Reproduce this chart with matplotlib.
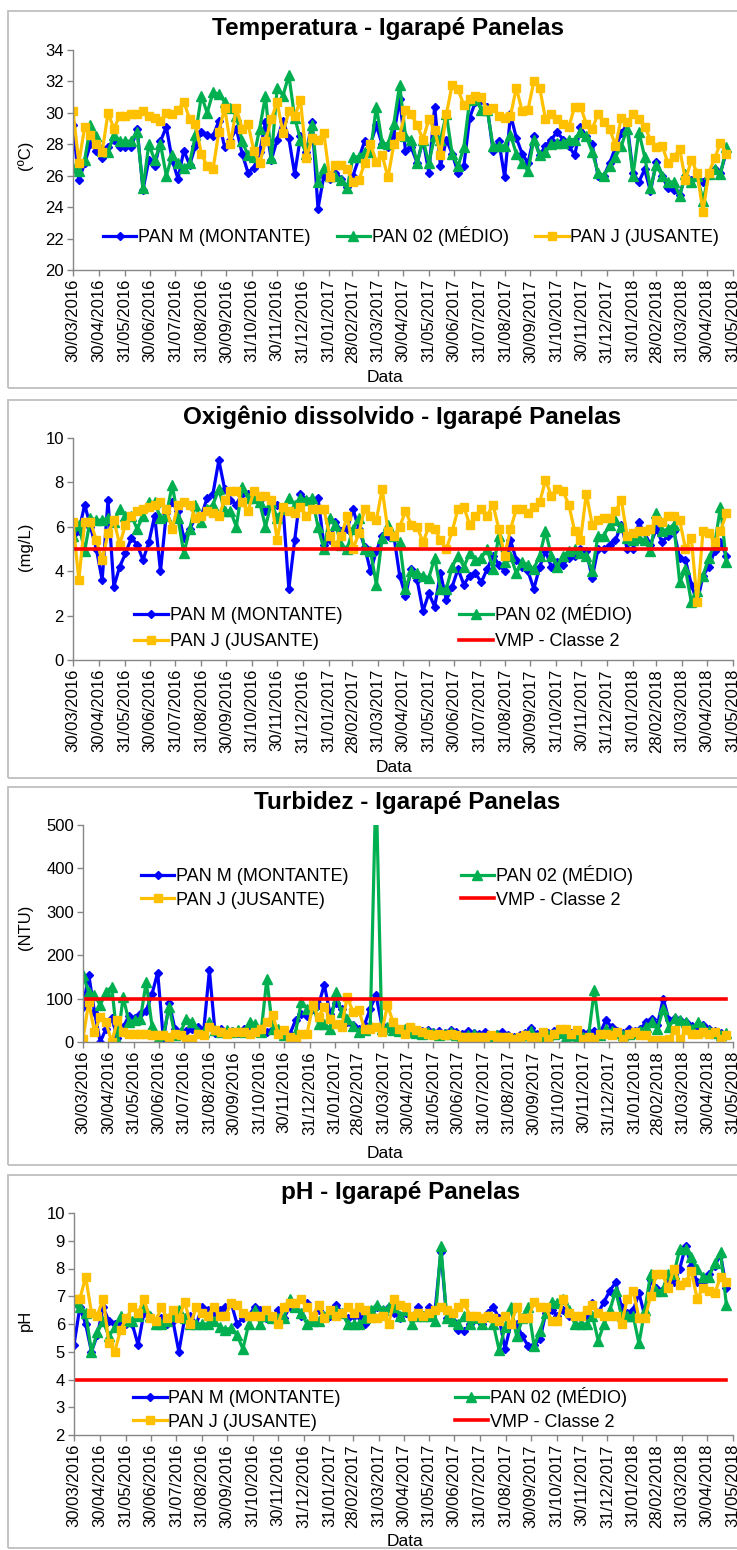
import numpy as np
import pandas as pd
import matplotlib
matplotlib.use('Agg')
import matplotlib.pyplot as plt
from matplotlib.patches import Rectangle

plt.rcParams['font.family'] = ['Liberation Sans', 'DejaVu Sans']

W, H = 737, 1550

# coletas semanais a partir de 30/03/2016
datas = pd.date_range('2016-03-30', periods=113, freq='7D')

rotulos_x = ['30/03/2016', '30/04/2016', '31/05/2016', '30/06/2016', '31/07/2016',
             '31/08/2016', '30/09/2016', '31/10/2016', '30/11/2016', '31/12/2016',
             '31/01/2017', '28/02/2017', '31/03/2017', '30/04/2017', '31/05/2017',
             '30/06/2017', '31/07/2017', '31/08/2017', '30/09/2017', '31/10/2017',
             '30/11/2017', '31/12/2017', '31/01/2018', '28/02/2018', '31/03/2018',
             '30/04/2018', '31/05/2018']

nomes = ['PAN M (MONTANTE)', 'PAN 02 (MÉDIO)', 'PAN J (JUSANTE)']
nome_vmp = 'VMP - Classe 2'

# Temperatura (ºC)
temp_m = [29.2, 25.7, 26.8, 28.0, 27.6, 27.1, 27.8, 28.3, 27.8, 27.8, 27.8,
          29.0, 25.1, 27.0, 26.6, 28.2, 29.1, 27.0, 25.8, 27.6, 26.7,
          27.9, 28.8, 28.6, 28.5, 29.5, 27.8, 28.3, 29.0, 27.4, 26.2,
          26.5, 27.5, 29.4, 27.0, 28.3, 29.5, 28.4, 26.1, 28.5, 27.5,
          29.4, 23.9, 26.0, 25.8, 26.2, 25.8, 25.3, 26.0, 27.1, 28.2,
          28.0, 29.2, 28.0, 27.8, 28.6, 30.9, 27.6, 27.8, 26.8, 28.3,
          26.2, 30.4, 26.6, 28.3, 27.4, 26.2, 26.6, 29.7, 30.7, 30.8,
          30.4, 27.6, 28.2, 25.9, 29.9, 28.4, 27.4, 26.8, 28.5, 27.3,
          27.9, 28.3, 28.8, 28.3, 27.9, 27.3, 29.1, 28.5, 28.0, 26.0,
          26.0, 26.8, 27.8, 28.7, 29.3, 26.2, 25.6, 26.4, 25.0, 26.9,
          26.0, 25.2, 25.1, 24.8, 26.0, 25.7, 26.1, 25.6, 26.1, 26.4,
          26.2, 27.5]
temp_02 = [26.5, 26.3, 27.0, 29.2, 28.5, 27.6, 27.5, 28.6, 28.2, 28.2, 28.2,
           28.8, 25.2, 28.0, 27.0, 28.0, 26.0, 27.3, 26.8, 26.5, 26.8,
           28.6, 31.1, 30.0, 31.3, 31.2, 30.7, 30.3, 29.8, 28.2, 27.3,
           27.2, 29.0, 31.1, 27.1, 31.6, 31.1, 32.4, 29.7, 28.3, 27.4,
           29.2, 25.6, 26.5, 26.0, 26.0, 25.7, 25.2, 27.2, 27.2, 27.5,
           27.5, 30.4, 28.1, 28.0, 29.3, 31.8, 28.5, 28.3, 26.8, 28.3,
           26.8, 28.5, 28.3, 29.9, 27.4, 26.6, 27.8, 30.8, 30.9, 30.2,
           30.2, 27.9, 27.9, 27.9, 28.6, 27.4, 26.8, 26.3, 28.3, 27.3,
           27.5, 28.0, 28.1, 28.1, 28.3, 28.3, 28.8, 28.5, 27.5, 26.2,
           26.0, 26.6, 27.2, 27.9, 29.0, 26.0, 28.8, 27.2, 25.2, 26.7,
           26.0, 25.6, 25.6, 24.7, 26.1, 25.6, 26.0, 24.4, 26.1, 26.4,
           26.1, 27.8]
temp_j = [30.1, 26.8, 29.1, 28.6, 28.0, 27.5, 30.0, 29.0, 29.8, 29.8, 29.9,
          29.9, 30.1, 29.8, 29.7, 29.5, 30.0, 29.9, 30.2, 30.7, 29.6,
          29.3, 27.4, 26.6, 26.4, 28.8, 30.3, 28.0, 30.3, 29.0, 29.3,
          27.6, 26.8, 28.2, 29.6, 30.7, 28.7, 30.1, 29.8, 30.8, 27.1,
          28.4, 28.3, 28.7, 25.9, 26.7, 26.7, 26.4, 25.6, 25.7, 26.8,
          28.0, 26.9, 27.3, 25.9, 28.0, 28.5, 30.2, 29.9, 29.2, 28.3,
          29.6, 28.9, 27.3, 29.9, 31.8, 31.5, 30.5, 30.9, 31.1, 31.0,
          30.2, 30.3, 29.8, 29.7, 29.8, 31.6, 30.1, 30.2, 32.0, 31.6,
          29.6, 29.9, 29.6, 29.3, 29.1, 30.4, 30.4, 29.3, 29.0, 29.9,
          29.4, 29.0, 27.9, 29.7, 29.4, 29.9, 29.6, 29.1, 28.3, 27.8,
          27.9, 26.8, 27.2, 27.7, 25.7, 27.0, 26.2, 23.7, 26.2, 27.1,
          28.1, 27.4]

# Oxigenio dissolvido (mg/L)
od_m = [5.4, 5.8, 7.0, 6.0, 5.0, 3.6, 7.2, 3.3, 4.2, 4.8, 5.5,
        5.2, 4.5, 5.3, 6.5, 4.0, 6.6, 7.1, 6.7, 5.5, 5.9,
        6.4, 6.5, 7.3, 7.5, 9.0, 7.7, 7.2, 7.0, 7.5, 7.5,
        7.3, 7.2, 6.7, 7.0, 7.0, 6.9, 3.2, 5.4, 7.5, 7.2,
        7.2, 7.3, 5.2, 5.4, 6.2, 5.8, 5.9, 6.8, 5.9, 5.1,
        4.0, 4.9, 5.6, 5.6, 5.6, 3.8, 2.9, 4.1, 3.6, 2.2,
        3.0, 2.4, 3.9, 2.7, 3.3, 4.1, 3.4, 3.8, 3.9, 3.5,
        4.1, 4.7, 4.3, 4.0, 5.4, 4.5, 4.2, 4.0, 3.2, 4.2,
        4.9, 4.2, 4.4, 4.3, 4.6, 4.7, 5.0, 4.9, 3.7, 5.0,
        5.0, 5.2, 5.4, 6.1, 5.0, 5.0, 6.2, 5.7, 5.2, 5.9,
        5.3, 5.6, 5.8, 4.6, 4.5, 3.4, 2.6, 3.8, 4.2, 4.9,
        5.3, 4.7]
od_02 = [5.6, 6.1, 4.9, 6.4, 6.3, 6.3, 6.4, 6.2, 6.8, 6.5, 6.5,
         5.9, 6.5, 7.1, 7.1, 6.4, 6.5, 7.9, 6.4, 4.8, 5.9,
         7.0, 6.2, 6.8, 7.0, 7.7, 6.7, 6.7, 6.0, 7.8, 7.3,
         7.3, 7.1, 6.0, 7.1, 6.4, 6.8, 7.3, 7.0, 7.3, 7.2,
         7.3, 6.0, 5.0, 6.4, 6.1, 5.2, 5.0, 5.9, 6.4, 5.0,
         4.9, 3.4, 5.5, 6.1, 5.6, 5.3, 3.2, 4.0, 3.9, 3.8,
         3.7, 4.6, 3.2, 3.2, 4.2, 4.7, 4.2, 4.8, 4.5, 4.6,
         5.0, 4.1, 5.6, 4.4, 4.7, 3.9, 4.4, 4.3, 4.1, 4.7,
         5.8, 4.7, 4.2, 4.7, 4.9, 5.0, 4.8, 4.7, 4.0, 5.6,
         5.6, 6.1, 6.3, 6.0, 5.5, 5.4, 5.5, 5.4, 4.9, 6.6,
         5.8, 5.9, 6.1, 3.5, 4.1, 2.6, 3.1, 3.8, 4.6, 5.2,
         6.9, 4.4]
od_j = [6.2, 3.6, 6.2, 6.2, 5.4, 4.5, 5.7, 6.3, 5.2, 6.1, 6.5,
        6.7, 6.8, 6.9, 7.0, 7.1, 6.8, 5.9, 7.0, 7.1, 7.0,
        6.4, 6.5, 6.7, 6.6, 6.5, 7.2, 7.6, 7.6, 7.1, 6.7,
        7.6, 7.4, 7.4, 7.2, 5.4, 6.9, 6.7, 6.6, 6.9, 6.5,
        6.8, 6.8, 6.8, 5.6, 5.2, 5.6, 6.5, 5.0, 5.7, 6.8,
        6.5, 6.3, 7.7, 5.8, 5.6, 6.0, 6.7, 6.1, 6.0, 5.3,
        6.0, 5.9, 5.4, 5.0, 5.8, 6.8, 6.9, 6.1, 6.5, 6.8,
        6.5, 7.0, 5.9, 4.7, 5.9, 6.8, 6.8, 6.6, 6.9, 7.1,
        8.1, 7.4, 7.7, 7.6, 7.0, 5.8, 5.4, 7.5, 6.1, 6.3,
        6.4, 6.4, 6.7, 7.2, 5.6, 5.7, 5.8, 5.8, 5.9, 6.3,
        6.2, 6.5, 6.5, 6.3, 5.0, 5.5, 2.6, 5.8, 5.7, 5.3,
        5.8, 6.6]

# Turbidez (NTU)
turb_m = [81, 155, 69, 0, 30, 55, 10, 35, 60, 55, 65,
          72, 110, 160, 5, 90, 30, 22, 25, 30, 35,
          25, 165, 20, 30, 25, 25, 20, 30, 25, 22,
          28, 22, 30, 28, 20, 18, 50, 65, 60, 75,
          85, 132, 65, 90, 75, 45, 40, 30, 40, 77,
          108, 40, 32, 35, 30, 28, 25, 22, 25, 28,
          22, 25, 20, 28, 22, 18, 25, 20, 18, 22,
          15, 18, 22, 15, 12, 15, 20, 32, 18, 12,
          20, 25, 18, 22, 20, 15, 20, 22, 25, 20,
          50, 35, 25, 20, 30, 25, 30, 45, 54, 40,
          100, 50, 55, 50, 45, 38, 35, 40, 30, 25,
          20, 15]
turb_02 = [154, 115, 108, 85, 115, 127, 4, 104, 46, 50, 54,
           138, 38, 8, 15, 81, 15, 23, 54, 46, 23,
           23, 46, 27, 23, 27, 23, 27, 23, 46, 42,
           23, 145, 31, 31, 15, 8, 23, 92, 77, 85,
           42, 42, 31, 115, 69, 54, 38, 23, 27, 40,
           600, 30, 35, 28, 25, 30, 22, 20, 18, 22,
           20, 15, 18, 22, 15, 12, 15, 18, 12, 10,
           12, 15, 10, 12, 8, 10, 15, 25, 12, 10,
           15, 18, 20, 12, 15, 10, 12, 15, 119, 15,
           30, 25, 20, 15, 18, 20, 25, 35, 45, 30,
           77, 35, 55, 50, 45, 30, 45, 35, 25, 20,
           15, 20]
turb_j = [8, 92, 23, 58, 45, 0, 50, 23, 19, 19, 19,
          19, 15, 15, 15, 12, 19, 15, 8, 8, 19,
          15, 35, 27, 23, 19, 23, 23, 23, 19, 23,
          31, 46, 62, 19, 27, 12, 8, 19, 19, 85,
          58, 81, 54, 42, 35, 104, 69, 73, 31, 31,
          35, 23, 85, 45, 31, 19, 35, 27, 23, 19,
          15, 19, 15, 19, 15, 12, 12, 12, 12, 12,
          15, 12, 12, 12, 8, 12, 15, 12, 12, 23,
          8, 19, 31, 31, 19, 27, 8, 12, 8, 19,
          19, 15, 23, 8, 19, 23, 15, 15, 4, 4,
          4, 8, 27, 8, 27, 19, 19, 23, 19, 23,
          8, 15]

# pH
ph_m = [5.25, 6.6, 6.0, 5.0, 5.6, 6.6, 6.1, 6.0, 6.0, 6.0, 6.0,
        5.25, 6.4, 6.3, 6.1, 6.2, 6.0, 6.1, 5.0, 6.2, 6.3,
        6.0, 6.6, 6.5, 6.4, 6.5, 6.6, 6.75, 6.0, 6.2, 6.3,
        6.6, 6.5, 6.2, 6.2, 6.5, 6.2, 6.6, 6.75, 6.3, 6.75,
        6.2, 6.5, 6.3, 6.3, 6.7, 6.4, 6.2, 6.3, 6.3, 6.0,
        6.3, 6.6, 6.5, 6.6, 6.4, 6.2, 6.4, 6.2, 6.6, 6.3,
        6.6, 6.5, 8.6, 6.2, 6.1, 5.8, 5.75, 6.0, 6.2, 6.0,
        6.4, 6.6, 6.2, 5.1, 6.0, 6.0, 5.55, 5.2, 5.25, 5.45,
        6.4, 6.5, 6.3, 6.5, 6.3, 6.2, 6.2, 6.3, 6.75, 6.4,
        6.8, 7.2, 7.5, 6.6, 6.4, 6.5, 7.1, 6.3, 7.6, 7.3,
        7.2, 7.5, 7.5, 8.0, 8.8, 8.1, 7.5, 7.5, 7.8, 8.1,
        8.5, 7.3]
ph_02 = [6.8, 6.6, 6.4, 5.0, 5.7, 6.1, 5.55, 5.9, 6.3, 6.1, 6.1,
         6.3, 6.6, 6.3, 6.0, 6.0, 6.1, 6.3, 6.5, 6.2, 6.0,
         6.0, 6.0, 6.0, 6.1, 5.9, 5.8, 5.85, 5.6, 5.1, 6.0,
         6.5, 6.0, 6.3, 6.2, 6.2, 6.2, 6.9, 6.6, 6.4, 6.0,
         6.1, 6.1, 6.3, 6.4, 6.5, 6.4, 6.0, 6.0, 6.0, 6.2,
         6.5, 6.7, 6.5, 6.6, 6.6, 6.3, 6.5, 6.0, 6.3, 6.3,
         6.3, 6.1, 8.8, 6.2, 6.1, 6.0, 6.3, 6.0, 6.2, 6.0,
         6.3, 6.0, 5.05, 5.9, 6.6, 5.55, 6.2, 6.6, 5.2, 5.75,
         6.4, 6.8, 6.75, 6.9, 6.5, 6.0, 6.0, 6.0, 6.3, 5.4,
         6.0, 6.5, 7.2, 6.3, 6.3, 6.3, 5.3, 6.5, 7.8, 7.2,
         7.2, 7.8, 7.8, 8.7, 8.7, 8.4, 8.0, 7.7, 7.7, 8.2,
         8.6, 6.7]
ph_j = [6.9, 6.9, 7.7, 6.4, 6.3, 6.9, 5.3, 5.0, 5.8, 6.2, 6.6,
        6.4, 6.9, 6.2, 6.1, 6.6, 6.2, 6.5, 6.2, 6.8, 6.0,
        6.6, 6.4, 6.3, 6.6, 6.3, 6.3, 6.75, 6.7, 6.4, 6.3,
        6.3, 6.3, 6.5, 6.3, 6.0, 6.6, 6.75, 6.75, 6.9, 6.6,
        6.3, 6.7, 6.2, 6.5, 6.3, 6.4, 6.6, 6.4, 6.6, 6.5,
        6.2, 6.2, 6.3, 6.0, 6.9, 6.7, 6.6, 6.3, 6.4, 6.3,
        6.4, 6.5, 6.6, 6.5, 6.4, 6.6, 6.75, 6.3, 6.3, 6.2,
        6.3, 6.2, 6.1, 6.3, 6.0, 6.6, 6.2, 6.2, 6.8, 6.6,
        6.6, 6.1, 6.1, 6.9, 6.4, 6.3, 6.3, 6.5, 6.7, 6.4,
        6.3, 6.3, 6.3, 6.0, 6.9, 7.2, 6.2, 6.2, 7.0, 7.8,
        7.8, 7.3, 8.0, 7.4, 7.5, 7.9, 6.9, 7.3, 7.2, 7.1,
        7.7, 7.5]

# limites da Resolucao CONAMA 357 (classe 2)
vmp_od = 5.0
vmp_turb = 100.0
vmp_ph = 4.0

cores = ['#0000FF', '#00B050', '#FFC000']
marcadores = [('D', 4.5), ('^', 6.5), ('s', 5.5)]
cinza = '#868686'

fig = plt.figure(figsize=(W / 100, H / 100), dpi=100)
fig.patch.set_facecolor('white')


def px(x):
    return x / W


def py(y):
    return 1 - y / H


def painel(caixa, area, titulo, tpos, ylabel, ypos, data_pos, ylim, yticks,
           series, vmp, leg_pos, leg_ncol, colsp, labsp):
    # moldura do grafico
    x0, y0, y1 = caixa
    fig.add_artist(Rectangle((px(x0), py(y1)), px(W + 20 - x0), (y1 - y0) / H,
                             transform=fig.transFigure, fill=False,
                             edgecolor='#BFBFBF', lw=1.3))
    l, t, r, b = area
    ax = fig.add_axes([px(l), py(b), px(r - l), (b - t) / H])
    hs = []
    for vals, cor, (mk, ms), nome in zip(series, cores, marcadores, nomes):
        h, = ax.plot(datas, vals, color=cor, lw=2.3, marker=mk, ms=ms,
                     mfc=cor, mec=cor, label=nome)
        hs.append(h)
    if vmp is not None:
        hv, = ax.plot(datas, np.full(len(datas), vmp), color='#FF0000', lw=2.6,
                      label=nome_vmp)
        hs.append(hv)
    ax.set_xlim(pd.Timestamp('2016-03-30'), pd.Timestamp('2018-05-31'))
    ax.set_ylim(*ylim)
    ax.set_yticks(yticks)
    ax.set_xticks(pd.to_datetime(rotulos_x, format='%d/%m/%Y'))
    ax.set_xticklabels(rotulos_x, rotation=90)
    for s in ['top', 'right']:
        ax.spines[s].set_visible(False)
    for s in ['left', 'bottom']:
        ax.spines[s].set_color(cinza)
        ax.spines[s].set_linewidth(1.0)
    ax.tick_params(axis='both', direction='out', length=4, width=1.0,
                   color=cinza, labelsize=12, pad=2.5)
    ax.set_facecolor('none')

    fig.text(px(tpos[0]), py(tpos[1]), titulo, ha='center', va='center',
             fontsize=17.5, fontweight='bold')
    fig.text(px(25), py(ypos), ylabel, ha='center', va='center',
             rotation=90, fontsize=12)
    fig.text(px(data_pos[0]), py(data_pos[1]), 'Data', ha='center',
             va='center', fontsize=12.5)

    if leg_ncol == 2:
        ordem = [hs[0], hs[2], hs[1], hs[3]]
    else:
        ordem = hs
    ax.legend(handles=ordem, loc='center', ncol=leg_ncol, frameon=False,
              bbox_to_anchor=(px(leg_pos[0]), py(leg_pos[1])),
              bbox_transform=fig.transFigure, fontsize=13,
              handlelength=1.85, handletextpad=0.1, columnspacing=colsp,
              labelspacing=labsp, borderpad=0, borderaxespad=0)
    return ax


painel((8, 11, 388), (73, 50, 733, 270),
       'Temperatura - Igarapé Panelas', (388, 29), '(ºC)', 155, (385, 378),
       (20, 34), range(20, 35, 2), [temp_m, temp_02, temp_j], None,
       (411, 236), 3, 1.45, 0.5)

painel((8, 400, 778), (73, 438, 733, 660),
       'Oxigênio dissolvido - Igarapé Panelas', (402, 417), '(mg/L)', 547,
       (394, 767), (0, 10), range(0, 11, 2), [od_m, od_02, od_j], vmp_od,
       (383, 627), 2, 6.5, 0.5)

painel((8, 787, 1165), (83, 825, 733, 1042),
       'Turbidez - Igarapé Panelas', (407, 803), '(NTU)', 927, (385, 1153),
       (0, 500), range(0, 501, 100), [turb_m, turb_02, turb_j], vmp_turb,
       (387, 887), 2, 6.2, 0.35)

painel((8, 1175, 1548), (74, 1213, 733, 1435),
       'pH - Igarapé Panelas', (401, 1193), 'pH', 1320, (405, 1542),
       (2, 10), range(2, 11, 1), [ph_m, ph_02, ph_j], vmp_ph,
       (380, 1409), 2, 6.3, 0.35)

fig.savefig('out.png', dpi=100, facecolor='white')
